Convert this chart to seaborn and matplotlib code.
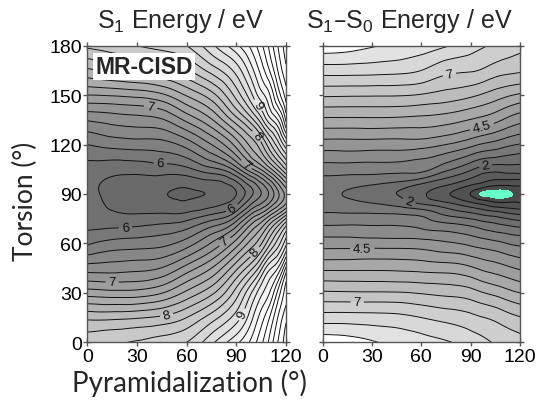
import numpy as np
import matplotlib
matplotlib.use("Agg")
import matplotlib.pyplot as plt
import matplotlib.tri as mtri
import seaborn as sns

# S1 energy (eV): rows = torsion, columns = pyramidalization
pyr_s1 = [0, 15, 30, 45, 60, 75, 90, 100, 105, 110, 115, 120]
tor_s1 = [0, 15, 30, 45, 60, 75, 90, 105, 120, 135, 150, 165, 180]
s1_energy = [
    [8.30, 8.37, 8.42, 8.50, 8.60, 8.95, 9.35, 9.70, 9.95, 10.25, 10.60, 10.90],
    [7.95, 7.95, 7.98, 8.04, 8.20, 8.50, 8.90, 9.40, 9.70, 10.00, 10.40, 10.75],
    [7.30, 7.27, 7.28, 7.39, 7.65, 7.95, 8.50, 9.05, 9.35, 9.60, 10.05, 10.50],
    [6.70, 6.71, 6.74, 6.81, 7.08, 7.40, 7.95, 8.40, 8.75, 9.15, 9.40, 10.05],
    [6.17, 6.27, 6.30, 6.34, 6.50, 6.82, 7.30, 7.73, 7.98, 8.35, 8.70, 9.15],
    [5.92, 5.87, 5.87, 5.90, 5.95, 6.14, 6.50, 7.05, 7.25, 7.55, 7.85, 8.22],
    [5.86, 5.75, 5.68, 5.62, 5.57, 5.61, 5.80, 6.20, 6.40, 6.63, 6.95, 7.28],
    [5.92, 5.87, 5.87, 5.90, 5.95, 6.14, 6.50, 7.00, 7.22, 7.52, 7.85, 8.22],
    [6.20, 6.27, 6.30, 6.32, 6.48, 6.80, 7.28, 7.70, 7.95, 8.33, 8.70, 9.15],
    [6.62, 6.68, 6.72, 6.78, 7.05, 7.38, 7.92, 8.38, 8.72, 9.12, 9.40, 10.05],
    [7.20, 7.22, 7.26, 7.36, 7.62, 7.92, 8.48, 9.02, 9.32, 9.58, 10.05, 10.50],
    [7.76, 7.85, 7.92, 8.00, 8.17, 8.48, 8.88, 9.38, 9.68, 10.00, 10.40, 10.75],
    [8.25, 8.32, 8.40, 8.48, 8.60, 8.95, 9.35, 9.70, 9.95, 10.25, 10.60, 10.90],
]

# S1-S0 gap (eV)
pyr_gap = [0, 15, 30, 45, 60, 75, 90, 97, 105, 112, 120]
tor_gap = [0, 15, 30, 45, 60, 70, 80, 85, 90, 95, 100, 110, 120, 135, 150, 165, 180]
gap_energy = [
    [8.85, 8.75, 8.55, 8.39, 8.22, 8.05, 7.78, 7.62, 7.45, 7.33, 7.20],
    [7.73, 7.73, 7.70, 7.65, 7.50, 7.33, 7.14, 7.02, 6.88, 6.70, 6.53],
    [6.58, 6.56, 6.55, 6.54, 6.46, 6.36, 6.21, 6.03, 5.86, 5.68, 5.50],
    [5.39, 5.39, 5.40, 5.38, 5.33, 5.27, 5.08, 4.90, 4.75, 4.60, 4.43],
    [4.27, 4.27, 4.26, 4.25, 4.22, 4.08, 3.88, 3.76, 3.64, 3.50, 3.38],
    [3.57, 3.58, 3.55, 3.54, 3.43, 3.25, 3.05, 2.88, 2.72, 2.60, 2.48],
    [2.94, 2.90, 2.86, 2.78, 2.60, 2.17, 1.80, 1.60, 1.40, 1.25, 1.13],
    [2.78, 2.62, 2.46, 2.25, 1.85, 1.50, 1.00, 0.75, 0.50, 0.48, 0.46],
    [2.67, 2.45, 2.25, 2.00, 1.60, 1.08, 0.48, 0.15, 0.10, 0.15, 0.40],
    [2.78, 2.62, 2.46, 2.25, 1.85, 1.48, 0.95, 0.72, 0.50, 0.48, 0.50],
    [2.94, 2.90, 2.86, 2.78, 2.60, 2.05, 1.55, 1.30, 1.15, 1.18, 1.20],
    [3.57, 3.58, 3.55, 3.54, 3.43, 3.10, 2.60, 2.35, 2.25, 2.20, 2.15],
    [4.27, 4.27, 4.26, 4.25, 4.22, 4.00, 3.65, 3.45, 3.30, 3.12, 2.97],
    [5.39, 5.39, 5.40, 5.38, 5.33, 5.22, 4.98, 4.85, 4.65, 4.40, 4.17],
    [6.58, 6.56, 6.55, 6.54, 6.46, 6.30, 6.10, 5.95, 5.75, 5.58, 5.42],
    [7.73, 7.73, 7.70, 7.65, 7.50, 7.15, 7.05, 6.95, 6.75, 6.65, 6.58],
    [8.85, 8.75, 8.55, 8.39, 8.22, 8.05, 7.72, 7.55, 7.42, 7.25, 7.10],
]

s1_lines = np.round(np.arange(5.6, 11.6, 0.2), 2)
s1_labels = [6.0, 7.0, 8.0, 9.0]
gap_lines = np.round(np.arange(0.5, 9.0, 0.5), 2)
gap_labels = [2.0, 4.5, 7.0]

sns.set_theme(style="ticks")
plt.rcParams['font.family'] = ['Liberation Sans', 'DejaVu Sans']
plt.rcParams['mathtext.default'] = 'regular'
plt.rcParams['axes.edgecolor'] = '#555555'
plt.rcParams['xtick.color'] = '#555555'
plt.rcParams['ytick.color'] = '#555555'
plt.rcParams['xtick.labelcolor'] = 'black'
plt.rcParams['ytick.labelcolor'] = 'black'


def refined(pyr, tor, values):
    # triangulate the read grid and smooth it with matplotlib's cubic refiner
    nx, ny = len(pyr), len(tor)
    P, T = np.meshgrid(pyr, tor)
    tris = []
    for j in range(ny - 1):
        for i in range(nx - 1):
            a = j * nx + i
            tris.append([a, a + 1, a + nx + 1])
            tris.append([a, a + nx + 1, a + nx])
    tri = mtri.Triangulation(P.ravel(), T.ravel(), tris)
    return mtri.UniformTriRefiner(tri).refine_field(np.ravel(values), subdiv=4)


def draw_lines(ax, tri, z, lines, labels, spots):
    plain = [v for v in lines if v not in labels]
    ax.tricontour(tri, z, levels=plain, colors='#111111', linewidths=0.7)
    cs = ax.tricontour(tri, z, levels=labels, colors='#111111', linewidths=0.7)
    ax.clabel(cs, fmt='%g', fontsize=9.5, inline_spacing=3, manual=spots)


def style_axes(ax, left_labels):
    ax.set_xlim(0, 120)
    ax.set_ylim(0, 180)
    ax.set_xticks([0, 30, 60, 90, 120])
    ax.set_yticks(range(0, 181, 30))
    ax.tick_params(direction='inout', length=6, width=1, top=True, right=True,
                   labeltop=False, labelright=False, labelleft=left_labels,
                   labelsize=14, pad=1)
    for s in ax.spines.values():
        s.set_linewidth(1.0)


fig = plt.figure(figsize=(5.4, 4.02), dpi=100)
ax1 = fig.add_axes([0.1617, 0.146, 0.368, 0.738])
ax2 = fig.add_axes([0.5976, 0.146, 0.3654, 0.738])

# left: S1 energy
tri1, z1 = refined(pyr_s1, tor_s1, s1_energy)
fill1 = np.concatenate([[5.4], s1_lines, [14.0]])
ax1.tricontourf(tri1, z1, levels=fill1, cmap='gray', vmin=2.8, vmax=9.8,
                extend='min')
draw_lines(ax1, tri1, z1, s1_lines, s1_labels,
           [(38, 141), (44, 108), (23, 70), (15, 35), (48, 16),
            (87, 82), (83, 61), (97, 109), (100, 123), (101, 55),
            (102, 143), (91, 18)])
style_axes(ax1, True)
ax1.text(0.04, 0.968, "MR-CISD", transform=ax1.transAxes, fontsize=16.5,
         fontweight='bold', va='top', ha='left',
         bbox=dict(fc='white', ec='none', pad=1.5), zorder=5)

# right: S1-S0 gap
tri2, z2 = refined(pyr_gap, tor_gap, gap_energy)
fill2 = np.concatenate([[-1.0, 0.25], gap_lines, [12.0]])
gray = plt.get_cmap('gray')
band_colors = ['#66ffcc'] + [gray(np.clip(((lo + hi) / 2 + 3.5) / 13.3, 0, 1))
                             for lo, hi in zip(fill2[1:-1], fill2[2:])]
ax2.tricontourf(tri2, z2, levels=fill2, colors=band_colors)
draw_lines(ax2, tri2, z2, gap_lines, gap_labels,
           [(77, 163), (97, 130), (99, 107), (52, 84), (24, 57), (21, 24)])
style_axes(ax2, False)

ax1.text(0.466, 1.085, "S$_1$ Energy / eV", transform=ax1.transAxes,
         ha='center', va='center', fontsize=18)
ax2.text(0.437, 1.085, "S$_1$\u2013S$_0$ Energy / eV", transform=ax2.transAxes,
         ha='center', va='center', fontsize=18)
fig.text(0.35, 0.047, "Pyramidalization (°)", ha='center', va='center',
         fontsize=20, family=['Lato', 'DejaVu Sans'])
fig.text(0.048, 0.50, "Torsion (°)", ha='center', va='center', rotation=90,
         fontsize=19, family=['Lato', 'DejaVu Sans'])

fig.savefig("out.png", dpi=100)
